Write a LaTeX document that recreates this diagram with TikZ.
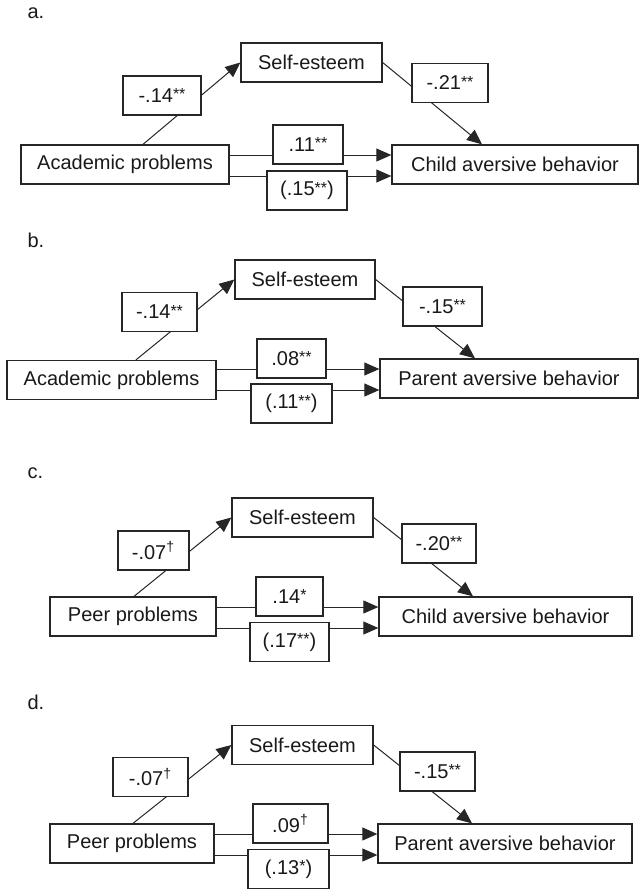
\documentclass[tikz,border=0pt]{standalone}
\usepackage{fontspec}
\setmainfont{Liberation Sans}
\usetikzlibrary{arrows.meta,backgrounds}
\newcommand{\sig}[1]{\raisebox{1.3pt}{\footnotesize #1}}
\newcommand{\trend}{\textsuperscript{\textdagger}}

\begin{document}
\begin{tikzpicture}[
  x=0.5pt,y=-0.5pt,font=\fontsize{10}{12}\selectfont,text=black!90,
  var/.style={draw=black!85,line width=0.65pt,minimum height=19.5pt,inner sep=0pt},
  coef/.style={var,fill=white},
  tag/.style={anchor=base west},
  link/.style={black!85,line width=0.5pt},
  effect/.style={link,-{Triangle[length=7.5pt,width=6.5pt]}},
]
\useasboundingbox (0,0) rectangle (639,889);

\node[tag] (a-tag) at (20.5,18.3) {a.};
\node[var,minimum width=104pt] (a-src) at (125,164.5) {Academic problems};
\node[var,minimum width=70.5pt] (a-med) at (311.5,62.5) {Self-esteem};
\node[var,minimum width=123pt] (a-out) at (515,164.5) {Child aversive behavior};
\node[coef,minimum width=39pt] (a-l1) at (162,95.5) {-.14\sig{**}};
\node[coef,minimum width=38pt] (a-l2) at (450,83) {-.21\sig{**}};
\node[coef,minimum width=35pt] (a-d1) at (308,144.5) {.11\sig{**}};
\node[coef,minimum width=40pt] (a-d2) at (307,190.5) {(.15\sig{**})};
\coordinate (a-hi) at ([yshift=4.75pt]a-src.east);
\coordinate (a-lo) at ([yshift=-5.75pt]a-src.east);

\node[tag] (b-tag) at (20.5,247.7) {b.};
\node[var,minimum width=104.5pt] (b-src) at (111.5,380) {Academic problems};
\node[var,minimum width=70pt] (b-med) at (305,279.5) {Self-esteem};
\node[var,minimum width=129pt] (b-out) at (509,378.5) {Parent aversive behavior};
\node[coef,minimum width=37.5pt] (b-l1) at (159.5,312) {-.14\sig{**}};
\node[coef,minimum width=39.5pt] (b-l2) at (442.5,306.5) {-.15\sig{**}};
\node[coef,minimum width=34.5pt] (b-d1) at (291.5,358.5) {.08\sig{**}};
\node[coef,minimum width=40.5pt] (b-d2) at (291.5,403.5) {(.11\sig{**})};
\coordinate (b-hi) at ([yshift=5.5pt]b-src.east);
\coordinate (b-lo) at ([yshift=-5pt]b-src.east);

\node[tag] (c-tag) at (20.5,478) {c.};
\node[var,minimum width=83pt] (c-src) at (133,616.5) {Peer problems};
\node[var,minimum width=70.5pt] (c-med) at (302.5,517.5) {Self-esteem};
\node[var,minimum width=126.5pt] (c-out) at (505.5,616.5) {Child aversive behavior};
\node[coef,minimum width=35.5pt] (c-l1) at (153.5,550.5) {-.07\trend};
\node[coef,minimum width=37pt] (c-l2) at (439,543.5) {-.20\sig{**}};
\node[coef,minimum width=33.5pt] (c-d1) at (289.5,596.5) {.14\sig{*}};
\node[coef,minimum width=39.5pt] (c-d2) at (289.5,642) {(.17\sig{**})};
\coordinate (c-hi) at ([yshift=4.75pt]c-src.east);
\coordinate (c-lo) at ([yshift=-5.75pt]c-src.east);

\node[tag] (d-tag) at (20.5,709) {d.};
\node[var,minimum width=82pt] (d-src) at (132,843.5) {Peer problems};
\node[var,minimum width=70.5pt] (d-med) at (302.5,745) {Self-esteem};
\node[var,minimum width=127pt] (d-out) at (505,843.5) {Parent aversive behavior};
\node[coef,minimum width=37.5pt] (d-l1) at (150.5,777) {-.07\trend};
\node[coef,minimum width=37.5pt] (d-l2) at (437.5,771.5) {-.15\sig{**}};
\node[coef,minimum width=37.5pt] (d-d1) at (290.5,823.5) {.09\trend};
\node[coef,minimum width=40.5pt] (d-d2) at (288.5,869) {(.13\sig{*})};
\coordinate (d-hi) at ([yshift=4.75pt]d-src.east);
\coordinate (d-lo) at ([yshift=-5.75pt]d-src.east);

\begin{scope}[on background layer]
\draw[effect] ([xshift=9pt]a-src.north) -- (a-med.west);
\draw[effect] (a-med.east) -- ([xshift=-16.5pt]a-out.north);
\draw[effect] (a-hi) -- (a-hi -| a-out.west);
\draw[effect] (a-lo) -- (a-lo -| a-out.west);

\draw[effect] ([xshift=12.25pt]b-src.north) -- (b-med.west);
\draw[effect] (b-med.east) -- ([xshift=-17pt]b-out.north);
\draw[effect] (b-hi) -- (b-hi -| b-out.west);
\draw[effect] (b-lo) -- (b-lo -| b-out.west);

\draw[effect] ([xshift=0.5pt]c-src.north) -- (c-med.west);
\draw[effect] (c-med.east) -- ([xshift=-16.25pt]c-out.north);
\draw[effect] (c-hi) -- (c-hi -| c-out.west);
\draw[effect] (c-lo) -- (c-lo -| c-out.west);

\draw[effect] ([xshift=0.5pt]d-src.north) -- (d-med.west);
\draw[effect] (d-med.east) -- ([xshift=-16.5pt]d-out.north);
\draw[effect] (d-hi) -- (d-hi -| d-out.west);
\draw[effect] (d-lo) -- (d-lo -| d-out.west);
\end{scope}
\end{tikzpicture}
\end{document}
